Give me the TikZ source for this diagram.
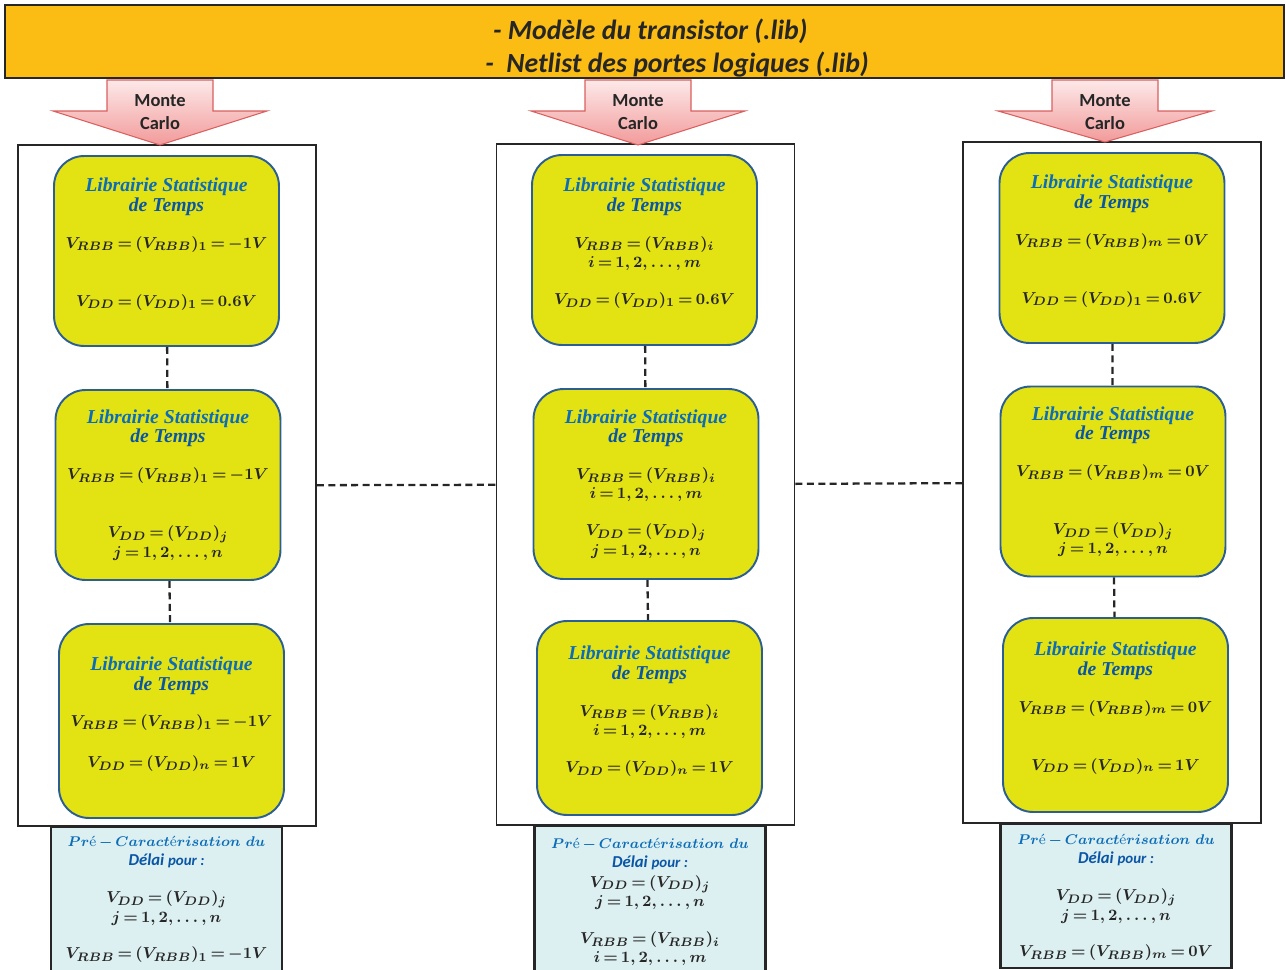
\documentclass[tikz,border=0pt]{standalone}
\usepackage{amsmath,amssymb}
\usepackage{fontspec}
\newfontfamily\carlito{Carlito}
\newfontfamily\titleserif{Liberation Serif}
\usetikzlibrary{positioning}
\DeclareMathSizes{9}{9}{7}{5}
\newcommand{\tightmath}{\thickmuskip=3mu\relax}

\definecolor{bannerorange}{HTML}{FBBC13}
\definecolor{libyellow}{HTML}{E3E314}
\definecolor{libborder}{HTML}{2B5E94}
\definecolor{libblue}{HTML}{0B6CB8}
\definecolor{deepblue}{HTML}{0A56A6}
\definecolor{prelight}{HTML}{DCEFF1}
\definecolor{arrowtop}{HTML}{FDE9E9}
\definecolor{arrowbot}{HTML}{F29A9A}
\definecolor{arrowedge}{HTML}{D9605F}
\definecolor{inktext}{HTML}{262626}

\newcommand{\libtitle}{{\color{libblue}\titleserif\bfseries\itshape\fontsize{11.2}{11}\selectfont Librairie Statistique}\\{\color{deepblue}\titleserif\bfseries\itshape\fontsize{11.2}{11}\selectfont de Temps}}
\newcommand{\pretitle}{{\color{libblue}\fontsize{8.4}{11}\selectfont$Pr$é$\,-\,Caract$é$risation\ du$}\\{\color{deepblue}\carlito\bfseries\itshape\fontsize{9.5}{11}\selectfont Délai {\fontsize{8.5}{10}\selectfont pour :}}}

\begin{document}
\begin{tikzpicture}[x=0.02cm,y=-0.02cm,
  banner/.style={draw=black!85,line width=1.4pt,fill=bannerorange,minimum width=25.58cm,minimum height=1.46cm},
  bannertext/.style={align=left,font=\carlito\bfseries\itshape\fontsize{15.8}{18.7}\selectfont,text=black!85},
  mctext/.style={align=center,font=\carlito\bfseries\fontsize{10.5}{13}\selectfont,text=black!85},
  colbox/.style={draw=black!85,line width=1.1pt,minimum width=5.96cm,minimum height=13.62cm},
  libbox/.style={draw=libborder,line width=1.1pt,fill=libyellow,rounded corners=0.6cm,
    minimum width=4.5cm,minimum height=3.8cm,align=center,text=inktext,
    font=\fontsize{9}{11}\selectfont\boldmath\tightmath},
  raised/.style={text depth=10pt},
  prebox/.style={draw=black!85,line width=1.4pt,fill=prelight,minimum width=4.62cm,minimum height=3cm},
  pretext/.style={align=center,text=inktext,font=\fontsize{9}{11}\selectfont\boldmath\tightmath},
  linkdash/.style={draw=black!85,line width=1.3pt,dash pattern=on 4pt off 2.5pt}]
  \useasboundingbox (0,0) rectangle (1286,970);

  \node[banner] (lib) at (644.5,41.5) {};
  \node[bannertext,anchor=west] (libtext) at (487,48) {- Modèle du transistor (.lib)\\\hspace*{-4.5pt}-\ \ Netlist des portes logiques (.lib)};

  \node[prebox,anchor=north] (p1) at (166.5,826) {};
  \node[prebox,anchor=north] (p2) at (650,825) {};
  \node[prebox,anchor=north,minimum height=2.88cm] (p3) at (1116,823) {};

  \node[colbox] (col1) at (167,485.5) {};
  \node[colbox] (col2) at (645.5,484.5) {};
  \node[colbox] (col3) at (1112,482.5) {};

  \foreach \cx/\ty/\nm in {160/145/mc1,638/145/mc2,1105/142/mc3}{
    \shade[top color=arrowtop,bottom color=arrowbot,draw=arrowedge,line width=0.6pt]
      (\cx-53,80) -- (\cx+53,80) -- (\cx+53,111) -- (\cx+107,111) -- (\cx,\ty)
      -- (\cx-107,111) -- (\cx-53,111) -- cycle;
    \node[mctext] (\nm) at (\cx,112) {Monte\\Carlo};
  }

  \node[libbox,raised] (l11) at (166.5,251) {\libtitle\\[10pt] $V_{RBB}=(V_{RBB})_1=-1V$\\[22pt] $V_{DD}=(V_{DD})_1=0.6V$};
  \node[libbox] (l12) at (168,485) {\libtitle\\[10pt] $V_{RBB}=(V_{RBB})_1=-1V$\\[22pt] $V_{DD}=(V_{DD})_j$\\ $j=1,2,\ldots,n$};
  \node[libbox,raised,minimum height=3.88cm] (l13) at (171.5,721) {\libtitle\\[10pt] $V_{RBB}=(V_{RBB})_1=-1V$\\[12pt] $V_{DD}=(V_{DD})_n=1V$};

  \node[libbox,raised] (l21) at (644.5,250) {\libtitle\\[10pt] $V_{RBB}=(V_{RBB})_i$\\ $i=1,2,\ldots,m$\\[10pt] $V_{DD}=(V_{DD})_1=0.6V$};
  \node[libbox] (l22) at (646,484) {\libtitle\\[10pt] $V_{RBB}=(V_{RBB})_i$\\ $i=1,2,\ldots,m$\\[10pt] $V_{DD}=(V_{DD})_j$\\ $j=1,2,\ldots,n$};
  \node[libbox,raised,minimum height=3.88cm] (l23) at (649.5,718) {\libtitle\\[10pt] $V_{RBB}=(V_{RBB})_i$\\ $i=1,2,\ldots,m$\\[10pt] $V_{DD}=(V_{DD})_n=1V$};

  \node[libbox,raised] (l31) at (1112,248) {\libtitle\\[10pt] $V_{RBB}=(V_{RBB})_m=0V$\\[22pt] $V_{DD}=(V_{DD})_1=0.6V$};
  \node[libbox] (l32) at (1113,481.5) {\libtitle\\[10pt] $V_{RBB}=(V_{RBB})_m=0V$\\[22pt] $V_{DD}=(V_{DD})_j$\\ $j=1,2,\ldots,n$};
  \node[libbox,raised,minimum height=3.88cm] (l33) at (1115.5,715) {\libtitle\\[10pt] $V_{RBB}=(V_{RBB})_m=0V$\\[22pt] $V_{DD}=(V_{DD})_n=1V$};

  \draw[linkdash] (l11) -- (l12);
  \draw[linkdash] (l12) -- (l13);
  \draw[linkdash] (l21) -- (l22);
  \draw[linkdash] (l22) -- (l23);
  \draw[linkdash] (l31) -- (l32);
  \draw[linkdash] (l32) -- (l33);
  \draw[linkdash] (col1) -- (col2);
  \draw[linkdash] (col2) -- (col3);

  \node[pretext,anchor=north] (t1) at (166.5,830) {\pretitle\\[10pt] $V_{DD}=(V_{DD})_j$\\ $j=1,2,\ldots,n$\\[10pt] $V_{RBB}=(V_{RBB})_1=-1V$};
  \node[pretext,anchor=north] (t2) at (650,832) {\pretitle\\ $V_{DD}=(V_{DD})_j$\\ $j=1,2,\ldots,n$\\[10pt] $V_{RBB}=(V_{RBB})_i$\\ $i=1,2,\ldots,m$};
  \node[pretext,anchor=north] (t3) at (1116,828) {\pretitle\\[10pt] $V_{DD}=(V_{DD})_j$\\ $j=1,2,\ldots,n$\\[10pt] $V_{RBB}=(V_{RBB})_m=0V$};
\end{tikzpicture}
\end{document}
